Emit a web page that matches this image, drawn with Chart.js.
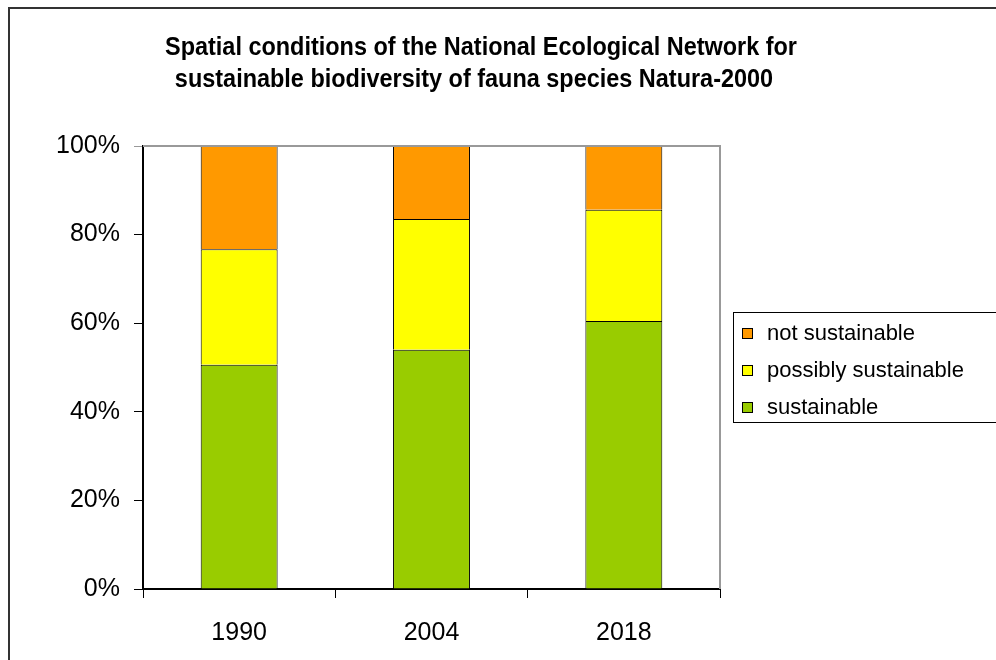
<!DOCTYPE html>
<html>
<head>
<meta charset="utf-8">
<script src="https://cdn.jsdelivr.net/npm/chart.js@4/dist/chart.umd.min.js"></script>
<style>
  body { margin: 0; background: #fff; }
</style>
</head>
<body>
<canvas id="canvas" width="996" height="660"></canvas>
<script>
// values (percent of area)
var years = ['1990', '2004', '2018'];
var sustainable = [50.6, 54.0, 60.5];
var possiblySustainable = [26.1, 29.5, 25.1];
var notSustainable = [23.3, 16.5, 14.4];
var yTicks = [0, 20, 40, 60, 80, 100];
var titleLines = ['Spatial conditions of the National Ecological Network for',
                  'sustainable biodiversity of fauna species Natura-2000'];

// outer frame, title, plot border and legend
var decorations = {
    id: 'decorations',
    beforeDraw: function(chart) {
        var ctx = chart.ctx;
        ctx.save();
        ctx.fillStyle = '#fff';
        ctx.fillRect(0, 0, chart.width, chart.height);
        ctx.strokeStyle = '#333';
        ctx.lineWidth = 2;
        ctx.beginPath();
        ctx.moveTo(9, chart.height);
        ctx.lineTo(9, 8);
        ctx.lineTo(chart.width, 8);
        ctx.stroke();

        // title: condensed look, squeeze a bold font to the original width
        ctx.fillStyle = '#000';
        ctx.font = 'bold 26px "Liberation Sans", Arial';
        ctx.textAlign = 'center';
        ctx.textBaseline = 'alphabetic';
        var sx = 632 / ctx.measureText(titleLines[0]).width;
        ctx.save();
        ctx.scale(sx, 1);
        ctx.fillText(titleLines[0], 481 / sx, 55);
        ctx.fillText(titleLines[1], 474 / sx, 87);
        ctx.restore();
        ctx.restore();
    },
    afterDatasetsDraw: function(chart) {
        var ctx = chart.ctx;
        var a = chart.chartArea;
        ctx.save();
        ctx.strokeStyle = '#999';
        ctx.lineWidth = 2;
        ctx.beginPath();
        ctx.moveTo(a.left, a.top);
        ctx.lineTo(a.right, a.top);
        ctx.lineTo(a.right, a.bottom);
        ctx.stroke();

        // legend
        ctx.strokeStyle = '#000';
        ctx.lineWidth = 1;
        ctx.strokeRect(733.5, 312.5, 300, 110);
        ctx.font = '22px "Liberation Sans", Arial';
        ctx.textAlign = 'left';
        ctx.textBaseline = 'middle';
        var sets = chart.data.datasets.slice().reverse();
        sets.forEach(function(ds, i) {
            var cy = 333 + i * 37;
            ctx.fillStyle = ds.backgroundColor;
            ctx.fillRect(742, cy - 5, 10, 10);
            ctx.strokeRect(742.5, cy - 4.5, 10, 10);
            ctx.fillStyle = '#000';
            ctx.fillText(ds.label, 767, cy + 1);
        });
        ctx.restore();
    }
};

var ctx = document.getElementById('canvas').getContext('2d');

var chart = new Chart(ctx, {
    type: 'bar',
    data: {
        labels: years,
        datasets: [
            {
                label: 'sustainable',
                backgroundColor: '#99CC00',
                borderColor: '#000',
                borderWidth: 1,
                data: sustainable
            },
            {
                label: 'possibly sustainable',
                backgroundColor: '#FFFF00',
                borderColor: '#000',
                borderWidth: 1,
                data: possiblySustainable
            },
            {
                label: 'not sustainable',
                backgroundColor: '#FF9900',
                borderColor: '#000',
                borderWidth: 1,
                data: notSustainable
            }
        ]
    },
    plugins: [decorations],
    options: {
        responsive: false,
        animation: false,
        devicePixelRatio: 1,
        layout: { padding: { left: 0, top: 146, right: 276, bottom: 0 } },
        plugins: {
            legend: { display: false },
            title: { display: false },
            tooltip: { enabled: false }
        },
        datasets: {
            bar: { categoryPercentage: 1, barPercentage: 0.4 }
        },
        scales: {
            x: {
                stacked: true,
                afterFit: function(scale) { scale.height = 71; },
                grid: { offset: true, drawOnChartArea: false, tickLength: 9, color: '#000', lineWidth: 1 },
                border: { color: '#000', width: 2 },
                ticks: { color: '#000', padding: 20, font: { family: '"Liberation Sans", Arial', size: 25 } }
            },
            y: {
                stacked: true,
                min: 0,
                max: 100,
                afterFit: function(scale) { scale.width = 143; },
                afterBuildTicks: function(scale) {
                    scale.ticks = yTicks.map(function(v) { return { value: v }; });
                },
                grid: {
                    drawOnChartArea: false,
                    tickLength: 9,
                    lineWidth: 1,
                    color: function(c) { return c.tick && c.tick.value === 100 ? '#999' : '#000'; }
                },
                border: { color: '#000', width: 2 },
                ticks: {
                    color: '#000',
                    padding: 14,
                    font: { family: '"Liberation Sans", Arial', size: 25 },
                    callback: function(v) { return v + '%'; }
                }
            }
        }
    }
});
</script>
</body>
</html>
